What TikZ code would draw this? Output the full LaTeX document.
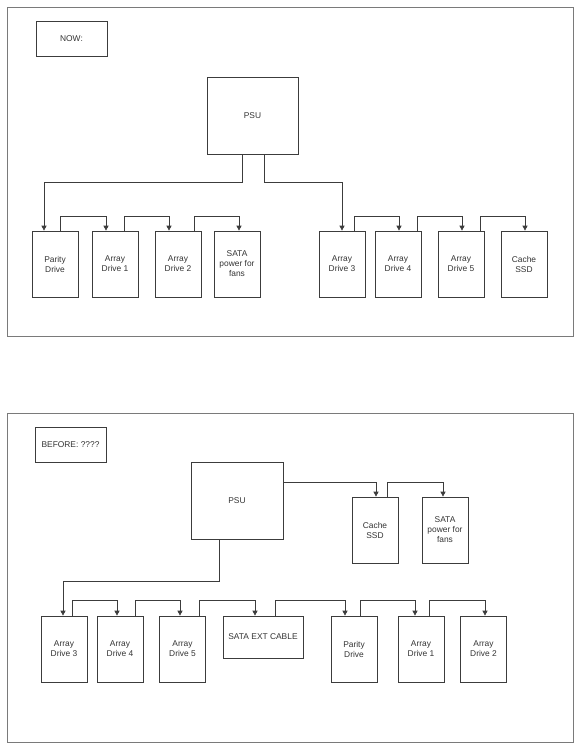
\documentclass[tikz,border=0pt]{standalone}
\usepackage{fontspec}
\setmainfont{Liberation Sans}
\usepackage{xcolor}
\usetikzlibrary{arrows.meta, calc}

\definecolor{linegray}{HTML}{3C3C3C}
\definecolor{framegray}{HTML}{7A7A7A}
\definecolor{textgray}{HTML}{333333}

\begin{document}
\begin{tikzpicture}[
    x=1pt, y=-1pt,
    every node/.style={font=\fontsize{8.4}{10}\selectfont, text=textgray, align=center},
    frame/.style={draw=framegray, line width=0.9pt},
    label box/.style={rectangle, draw=linegray, line width=0.7pt, minimum width=71pt, minimum height=35pt, inner sep=0pt},
    psubox/.style={rectangle, draw=linegray, line width=0.7pt, minimum width=91pt, minimum height=77pt, inner sep=0pt},
    drive/.style={rectangle, draw=linegray, line width=0.7pt, minimum width=46pt, minimum height=66pt, inner sep=0pt},
    wire/.style={draw=linegray, line width=0.7pt, -{Triangle[length=5pt, width=5pt]}}
]
\useasboundingbox (0,0) rectangle (581,750);

% Frames
\draw[frame] (7,7) rectangle (573,336);
\draw[frame] (7,413) rectangle (573,742);

% NOW
\node[label box] (now) at (71.5,38.5) {NOW:};
\node[psubox] (psu) at (252.5,115.5) {PSU};

\node[drive] (pd) at (55,264) {Parity\\Drive};
\node[drive] (ad1) at (115,264) {Array\\Drive 1};
\node[drive] (ad2) at (178,264) {Array\\Drive 2};
\node[drive] (fans) at (237,264) {SATA\\power for\\fans};
\node[drive] (ad3) at (342,264) {Array\\Drive 3};
\node[drive] (ad4) at (398,264) {Array\\Drive 4};
\node[drive] (ad5) at (461,264) {Array\\Drive 5};
\node[drive] (ssd) at (524,264) {Cache\\SSD};

\draw[wire] ($(psu.south)+(-10.5,0)$) -- ++(0,28) -| ($(pd.north)+(-11,0)$);
\draw[wire] ($(psu.south)+(11.5,0)$) -- ++(0,28) -| (ad3.north);
\draw[wire] ($(pd.north)+(5,0)$) -- ++(0,-14) -| ($(ad1.north)+(-9,0)$);
\draw[wire] ($(ad1.north)+(9,0)$) -- ++(0,-14) -| ($(ad2.north)+(-9,0)$);
\draw[wire] ($(ad2.north)+(16,0)$) -- ++(0,-14) -| ($(fans.north)+(2,0)$);
\draw[wire] ($(ad3.north)+(12,0)$) -- ++(0,-14) -| ($(ad4.north)+(1,0)$);
\draw[wire] ($(ad4.north)+(19,0)$) -- ++(0,-14) -| ($(ad5.north)+(1,0)$);
\draw[wire] ($(ad5.north)+(19,0)$) -- ++(0,-14) -| ($(ssd.north)+(1,0)$);

% BEFORE
\node[label box] (before) at (70.5,444.5) {BEFORE: ????};
\node[psubox, minimum width=92pt] (bpsu) at (237,500.5) {PSU};

\node[drive] (bssd) at (375,530) {Cache\\SSD};
\node[drive] (bfans) at (445,530) {SATA\\power for\\fans};

\node[drive] (bad3) at (64,649) {Array\\Drive 3};
\node[drive] (bad4) at (120,649) {Array\\Drive 4};
\node[drive] (bad5) at (182.5,649) {Array\\Drive 5};
\node[drive, minimum width=80pt, minimum height=42pt] (ext) at (263,637) {SATA EXT CABLE};
\node[drive] (bpd) at (354,649) {Parity\\Drive};
\node[drive] (bad1) at (421,649) {Array\\Drive 1};
\node[drive] (bad2) at (483.5,649) {Array\\Drive 2};

\draw[wire] ($(bpsu.north east)+(0,21)$) -| ($(bssd.north)+(1,0)$);
\draw[wire] ($(bssd.north)+(12,0)$) -- ++(0,-14) -| ($(bfans.north)+(-2,0)$);
\draw[wire] ($(bpsu.south)+(-18,0)$) -- ++(0,42) -| ($(bad3.north)+(-1,0)$);
\draw[wire] ($(bad3.north)+(8,0)$) -- ++(0,-15) -| ($(bad4.north)+(-3,0)$);
\draw[wire] ($(bad4.north)+(15,0)$) -- ++(0,-15) -| ($(bad5.north)+(-2.5,0)$);
\draw[wire] ($(bad5.north)+(16.5,0)$) -- ++(0,-15) -| ($(ext.north)+(-8,0)$);
\draw[wire] ($(ext.north)+(12,0)$) -- ++(0,-15) -| ($(bpd.north)+(-9,0)$);
\draw[wire] ($(bpd.north)+(6,0)$) -- ++(0,-15) -| ($(bad1.north)+(-6,0)$);
\draw[wire] ($(bad1.north)+(8,0)$) -- ++(0,-15) -| ($(bad2.north)+(1.5,0)$);

\end{tikzpicture}
\end{document}
